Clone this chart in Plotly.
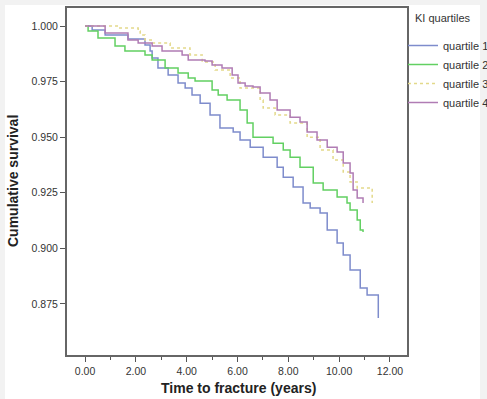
import plotly.graph_objects as go

# Kaplan-Meier step data (time in years, cumulative survival)
q1_time = [0.00, 0.28, 0.79, 1.69, 2.36, 2.56, 2.64, 2.87, 3.27, 3.66, 3.94, 4.21, 4.53, 4.92,
           5.31, 5.83, 6.10, 6.50, 7.01, 7.56, 7.80, 8.19, 8.58, 8.86, 9.25, 9.53, 9.92, 10.16,
           10.43, 10.83, 11.10, 11.54]
q1_surv = [1.0000, 0.9982, 0.9960, 0.9942, 0.9915, 0.9888, 0.9856, 0.9811, 0.9780, 0.9744,
           0.9721, 0.9690, 0.9653, 0.9600, 0.9541, 0.9523, 0.9487, 0.9455, 0.9410, 0.9365,
           0.9320, 0.9276, 0.9204, 0.9181, 0.9159, 0.9082, 0.9024, 0.8970, 0.8902, 0.8821,
           0.8790, 0.8686]

q2_time = [0.00, 0.12, 0.51, 1.18, 1.57, 2.36, 2.64, 3.15, 3.66, 4.06, 4.33, 5.00, 5.24, 5.59,
           6.10, 6.38, 6.61, 7.40, 7.80, 8.07, 8.46, 8.98, 9.37, 9.92, 10.31, 10.43, 10.71,
           10.83, 10.94]
q2_surv = [1.0000, 0.9978, 0.9946, 0.9910, 0.9888, 0.9870, 0.9847, 0.9811, 0.9789, 0.9766,
           0.9753, 0.9712, 0.9690, 0.9667, 0.9622, 0.9564, 0.9500, 0.9473, 0.9442, 0.9410,
           0.9365, 0.9294, 0.9262, 0.9231, 0.9204, 0.9172, 0.9127, 0.9082, 0.9073]

q3_time = [0.00, 1.30, 2.09, 2.17, 2.36, 2.64, 3.35, 4.13, 4.61, 5.12, 5.71, 6.10, 6.89, 7.01,
           7.48, 8.07, 8.74, 9.25, 9.76, 10.16, 10.43, 10.71, 11.30]
q3_surv = [1.0000, 0.9991, 0.9978, 0.9960, 0.9937, 0.9924, 0.9901, 0.9870, 0.9838, 0.9802,
           0.9766, 0.9721, 0.9667, 0.9631, 0.9600, 0.9564, 0.9500, 0.9442, 0.9397, 0.9343,
           0.9298, 0.9271, 0.9204]

q4_time = [0.00, 0.79, 1.69, 2.09, 2.64, 3.03, 3.82, 4.06, 4.72, 5.00, 5.39, 5.79, 6.02, 6.30,
           6.61, 6.89, 7.28, 7.56, 8.07, 8.46, 8.74, 9.13, 9.53, 9.92, 10.16, 10.43, 10.55,
           10.71, 10.94]
q4_surv = [1.0000, 0.9969, 0.9937, 0.9924, 0.9910, 0.9888, 0.9870, 0.9847, 0.9843, 0.9825,
           0.9811, 0.9780, 0.9744, 0.9730, 0.9726, 0.9699, 0.9667, 0.9622, 0.9590, 0.9568,
           0.9523, 0.9487, 0.9455, 0.9433, 0.9384, 0.9339, 0.9262, 0.9226, 0.9204]

series_names = ["quartile 1", "quartile 2", "quartile 3", "quartile 4"]
legend_title = "KI quartiles"
x_ticks = [0, 2, 4, 6, 8, 10, 12]
y_ticks = [0.875, 0.900, 0.925, 0.950, 0.975, 1.000]

colors = ["#7e8ccc", "#62d062", "#e3d98a", "#b07cb4"]
dashes = ["solid", "solid", "dot", "solid"]

fig = go.Figure()
for t, s, name, c, d in zip([q1_time, q2_time, q3_time, q4_time],
                            [q1_surv, q2_surv, q3_surv, q4_surv],
                            series_names, colors, dashes):
    fig.add_trace(go.Scatter(x=t, y=s, mode="lines", name=name,
                             line=dict(color=c, width=1.5, shape="hv", dash=d)))

W, H = 487, 399
L, R, T, B = 67, 407, 8, 355
pw, ph = R - L, B - T

def px(x):
    return (x - L) / pw

def py(y):
    return (B - y) / ph

fig.update_layout(
    width=W, height=H,
    margin=dict(l=L, r=W - R, t=T, b=H - B, autoexpand=False),
    paper_bgcolor="#f2f2f2",
    plot_bgcolor="#ededf2",
    font=dict(family="Liberation Sans, Arial, sans-serif", size=10.5, color="#333333"),
    showlegend=True,
    legend=dict(
        x=px(403), y=py(31), xanchor="left", yanchor="top",
        bgcolor="rgba(0,0,0,0)", font=dict(size=11, color="#333333"),
        itemwidth=30, tracegroupgap=0,
    ),
    shapes=[dict(type="rect", xref="paper", yref="paper", layer="below",
                 x0=px(5), x1=px(480), y0=py(399), y1=py(5),
                 fillcolor="white", line=dict(width=0))],
    annotations=[
        dict(text=legend_title, xref="paper", yref="paper",
             x=px(413), y=py(18), xanchor="left", yanchor="middle", showarrow=False,
             font=dict(size=11, color="#333333")),
        dict(text="<b>Time to fracture (years)</b>", xref="paper", yref="paper",
             x=px(238), y=py(388), xanchor="center", yanchor="middle", showarrow=False,
             font=dict(size=14, color="#222222")),
        dict(text="<b>Cumulative survival</b>", xref="paper", yref="paper",
             x=px(13), y=py(181), xanchor="center", yanchor="middle", showarrow=False,
             textangle=-90, font=dict(size=14, color="#222222")),
    ],
)

fig.update_xaxes(
    range=[-0.71, 12.67], tickvals=x_ticks, tickformat=".2f",
    ticks="outside", ticklen=5, tickcolor="#555555", tickwidth=1,
    minor=dict(dtick=1, tick0=0, ticks="outside", ticklen=3, tickcolor="#555555", showgrid=False),
    showgrid=False, zeroline=False,
    showline=True, linecolor="#666666", linewidth=2, mirror=True,
    tickfont=dict(size=10.5, color="#333333"),
)
fig.update_yaxes(
    range=[0.852, 1.0081], tickvals=y_ticks, tickformat=".3f",
    ticks="outside", ticklen=5, tickcolor="#555555", tickwidth=1,
    showgrid=False, zeroline=False,
    showline=True, linecolor="#666666", linewidth=2, mirror=True,
    tickfont=dict(size=10.5, color="#333333"),
)

fig.write_html("out.html")
